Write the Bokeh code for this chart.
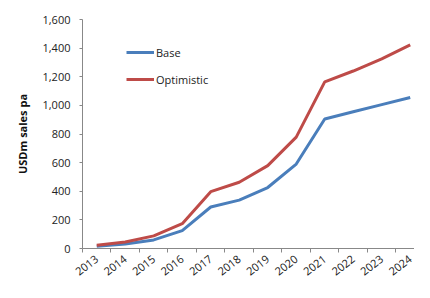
import math
from bokeh.plotting import figure
from bokeh.models import FixedTicker, NumeralTickFormatter, Legend, LegendItem, Range1d
from bokeh.embed import file_html
from bokeh.resources import INLINE

years = ["2013", "2014", "2015", "2016", "2017", "2018", "2019", "2020", "2021", "2022", "2023", "2024"]
base = [15, 32, 60, 125, 290, 338, 426, 590, 905, 955, 1005, 1055]
optimistic = [22, 45, 88, 173, 397, 463, 579, 778, 1164, 1240, 1325, 1423]
y_ticks = [0, 200, 400, 600, 800, 1000, 1200, 1400, 1600]

FONT = "Open Sans"
xs = list(range(len(years)))

p = figure(width=414, height=282, output_backend="svg", toolbar_location=None,
           x_range=Range1d(-0.5, len(years) - 0.85), y_range=Range1d(0, 1600),
           min_border_left=82, min_border_top=19, min_border_bottom=30, min_border_right=0)
p.outline_line_color = None
p.border_fill_color = "white"
p.xgrid.visible = False
p.ygrid.visible = False

r_base = p.line(xs, base, line_color="#4A7EBB", line_width=3)
r_opt = p.line(xs, optimistic, line_color="#BE4B48", line_width=3)

# x axis
p.xaxis.ticker = FixedTicker(ticks=xs, minor_ticks=[i - 0.5 for i in range(len(years) + 1)])
p.xaxis.major_label_overrides = {i: y for i, y in enumerate(years)}
p.xaxis.major_tick_line_color = None
p.xaxis.minor_tick_in = 0
p.xaxis.minor_tick_out = 4
p.xaxis.minor_tick_line_color = "#888888"
p.xaxis.axis_line_color = "#888888"
p.xaxis.major_label_orientation = 0.66
p.xaxis.major_label_text_font = FONT
p.xaxis.major_label_text_font_size = "11px"
p.xaxis.major_label_text_color = "#222222"
p.xaxis.major_label_standoff = 3

# y axis
p.yaxis.ticker = FixedTicker(ticks=y_ticks)
p.yaxis.formatter = NumeralTickFormatter(format="0,0")
p.yaxis.minor_tick_line_color = None
p.yaxis.major_tick_in = 0
p.yaxis.major_tick_out = 3
p.yaxis.major_tick_line_color = "#888888"
p.yaxis.axis_line_color = "#888888"
p.yaxis.major_label_text_font = FONT
p.yaxis.major_label_text_font_size = "11px"
p.yaxis.major_label_text_color = "#222222"
p.yaxis.major_label_standoff = 9
p.yaxis.axis_label = "USDm sales pa"
p.yaxis.axis_label_text_font = FONT
p.yaxis.axis_label_text_font_size = "11px"
p.yaxis.axis_label_text_font_style = "bold"
p.yaxis.axis_label_text_color = "#111111"
p.yaxis.axis_label_standoff = 9

legend = Legend(items=[LegendItem(label="Base", renderers=[r_base]),
                       LegendItem(label="Optimistic", renderers=[r_opt])],
                location=(44, 159), glyph_width=28, glyph_height=20, spacing=7,
                label_standoff=2, padding=0, margin=0,
                border_line_color=None, background_fill_alpha=0,
                label_text_font=FONT, label_text_font_size="11px",
                label_text_color="#222222")
p.add_layout(legend)

open("out.html", "w").write(file_html(p, INLINE))
